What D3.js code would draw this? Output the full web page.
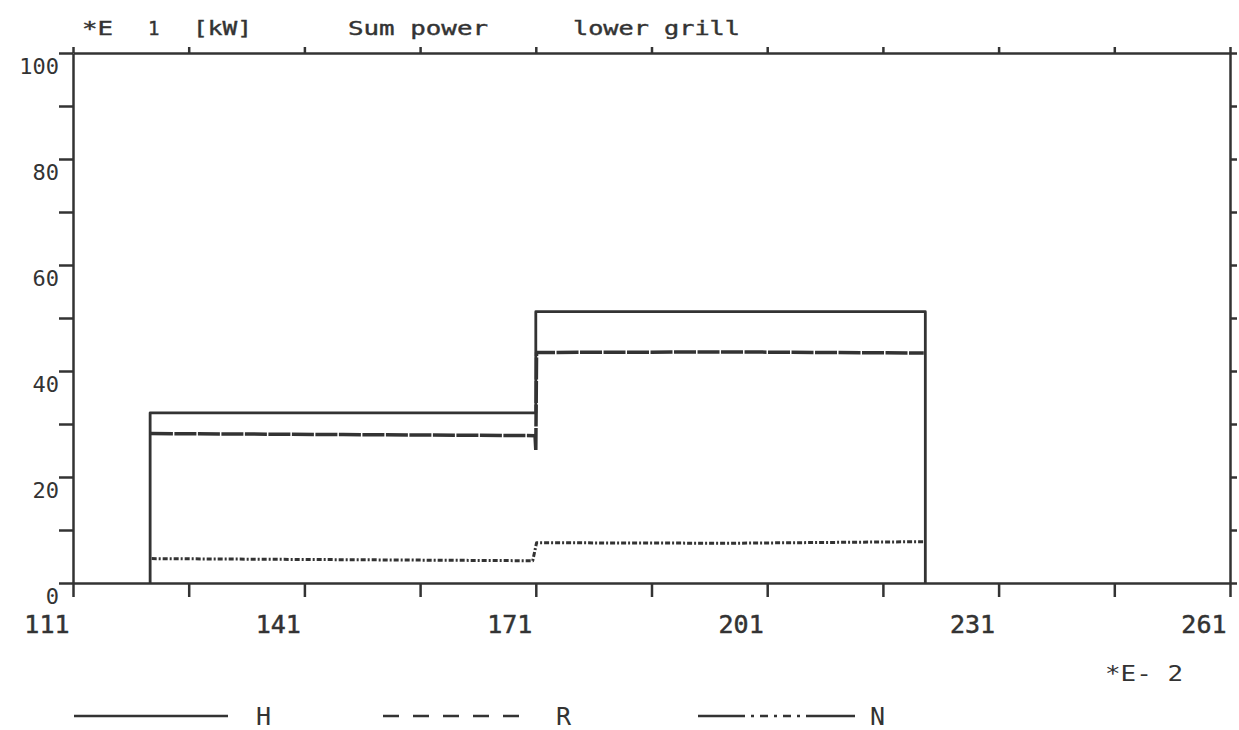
<!DOCTYPE html>
<html>
<head>
<meta charset="utf-8">
<script src="https://cdn.jsdelivr.net/npm/d3@7"></script>
<style>
  body { margin: 0; background: #fff; }
  svg { display: block; }
  text { font-family: "DejaVu Sans Mono", monospace; fill: #333; }
  .axis path, .axis line { stroke: #333; stroke-width: 2.5; }
</style>
</head>
<body>
<svg id="chart" width="1239" height="730"></svg>
<script>
// x axis in units of E-2, ticks every 15
const xTicks = [111, 126, 141, 156, 171, 186, 201, 216, 231, 246, 261];
const xTickLabels = [111, 141, 171, 201, 231, 261];
const yTicks = [0, 10, 20, 30, 40, 50, 60, 70, 80, 90, 100];
const yTickLabels = [0, 20, 40, 60, 80, 100];

// series (kW *E1)
const hX = [121, 121, 171, 171, 221.5, 221.5];
const hY = [0, 32.1, 32.1, 51.2, 51.2, 0];
const rX = [121.1, 146, 170.9, 171, 171.1, 196, 221.3];
const rY = [28.2, 28.0, 27.8, 25.0, 43.5, 43.6, 43.4];
const nX = [121.2, 146, 170.6, 171.1, 196, 221.4];
const nY = [4.6, 4.4, 4.2, 7.6, 7.5, 7.8];

const legendNames = ["H", "R", "N"];

const svg = d3.select("#chart");
const ink = "#333";

const x = d3.scaleLinear().domain([111, 261]).range([73, 1230]);
const y = d3.scaleLinear().domain([0, 100]).range([583, 53]);

// frame: top and right axes, ticks only
svg.append("g")
  .attr("class", "axis")
  .attr("transform", `translate(0,${y(100)})`)
  .call(d3.axisTop(x).tickValues(xTicks).tickSize(6).tickSizeOuter(0).tickFormat(""));

svg.append("g")
  .attr("class", "axis")
  .attr("transform", `translate(${x(261)},0)`)
  .call(d3.axisRight(y).tickValues(yTicks).tickSize(7).tickSizeOuter(0).tickFormat(""));

const xAxis = svg.append("g")
  .attr("class", "axis")
  .attr("transform", `translate(0,${y(0)})`)
  .call(
    d3.axisBottom(x)
      .tickValues(xTicks)
      .tickSize(14)
      .tickSizeOuter(0)
      .tickFormat((d) => (xTickLabels.includes(d) ? d : "")),
  );

xAxis.selectAll("text")
  .attr("text-anchor", "end")
  .attr("x", -4)
  .attr("y", 50)
  .attr("dy", 0)
  .style("font-size", "25px");

const yAxis = svg.append("g")
  .attr("class", "axis")
  .attr("transform", `translate(${x(111)},0)`)
  .call(
    d3.axisLeft(y)
      .tickValues(yTicks)
      .tickSize(14)
      .tickSizeOuter(0)
      .tickFormat((d) => (yTickLabels.includes(d) ? d : "")),
  );

yAxis.selectAll("text")
  .attr("text-anchor", "end")
  .attr("x", -14)
  .attr("dy", "0.95em")
  .style("font-size", "22px");

xAxis.selectAll("text").attr("fill", ink).attr("stroke", ink).attr("stroke-width", 0.5);
yAxis.selectAll("text").attr("fill", ink);

// data lines
const line = d3.line();

function drawSeries(xs, ys, dash, width) {
  svg.append("path")
    .datum(xs.map((v, i) => [x(v), y(ys[i])]))
    .attr("d", line)
    .attr("fill", "none")
    .attr("stroke", ink)
    .attr("stroke-width", width)
    .attr("stroke-dasharray", dash)
    .attr("stroke-linejoin", "round");
}

drawSeries(nX, nY, "5,2,2,2", 3);
drawSeries(rX, rY, "22,1.5", 3.5);
drawSeries(hX, hY, null, 2.8);

// header texts
const header = [
  { text: "*E", x: 82, len: 31 },
  { text: "1", x: 148, len: null },
  { text: "[kW]", x: 193, len: 59 },
  { text: "Sum power", x: 348, len: 140 },
  { text: "lower grill", x: 573, len: 167 },
];

svg.selectAll(".header")
  .data(header)
  .join("text")
  .attr("class", "header")
  .attr("x", (d) => d.x)
  .attr("y", 35)
  .attr("textLength", (d) => d.len)
  .attr("lengthAdjust", "spacingAndGlyphs")
  .style("font-size", "19px")
  .attr("stroke", ink)
  .attr("stroke-width", 0.4)
  .text((d) => d.text);

svg.append("text")
  .attr("x", 1105)
  .attr("y", 681)
  .attr("textLength", 78)
  .attr("lengthAdjust", "spacingAndGlyphs")
  .style("font-size", "21px")
  .text("*E- 2");

// legend
const legendY = 716;
const legendItems = [
  { x1: 74, x2: 228, dash: null, tx: 256 },
  { x1: 383, x2: 522, dash: "16,14", tx: 556 },
  { x1: 698, x2: 855, dash: "47,6,3,6,8,6,3,6,8,6,3,6,60", tx: 870 },
];

legendItems.forEach((item, i) => {
  svg.append("line")
    .attr("x1", item.x1)
    .attr("x2", item.x2)
    .attr("y1", legendY)
    .attr("y2", legendY)
    .attr("stroke", ink)
    .attr("stroke-width", 2.5)
    .attr("stroke-dasharray", item.dash);

  svg.append("text")
    .attr("x", item.tx)
    .attr("y", legendY + 9)
    .style("font-size", "25px")
    .text(legendNames[i]);
});
</script>
</body>
</html>
